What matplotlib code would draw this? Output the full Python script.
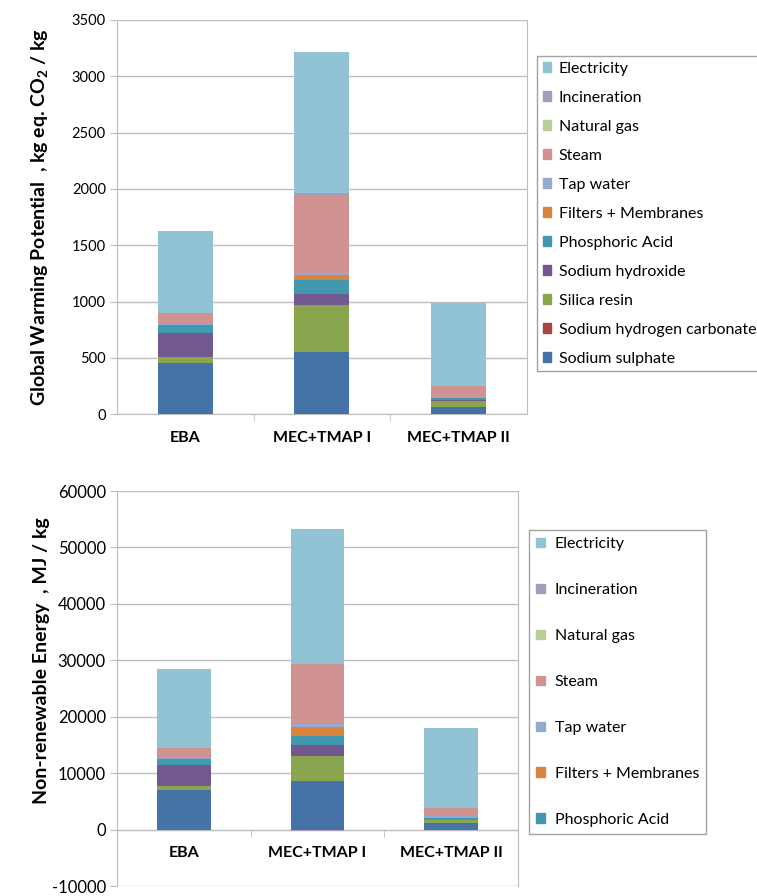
import matplotlib
matplotlib.use("Agg")
import matplotlib.pyplot as plt
import numpy as np
from matplotlib.patches import Patch

plt.rcParams['font.family'] = ['Lato', 'DejaVu Sans']
plt.rcParams['mathtext.default'] = 'regular'
plt.rcParams['axes.unicode_minus'] = False

# Categories and components (stack order, bottom first)
categories = ["EBA", "MEC+TMAP I", "MEC+TMAP II"]
components = ["Sodium sulphate", "Sodium hydrogen carbonate", "Silica resin",
              "Sodium hydroxide", "Phosphoric Acid", "Filters + Membranes",
              "Tap water", "Steam", "Natural gas", "Incineration", "Electricity"]
colors = ["#4572A7", "#AA4643", "#89A54E", "#71588F", "#4198AF", "#DB843D",
          "#93A9CF", "#D19392", "#B9CD96", "#A99BBD", "#91C3D5"]

# Global warming potential, kg eq. CO2 / kg
gwp_sulphate = [453, 551, 62]
gwp_carbonate = [0, 0, 0]
gwp_silica = [59, 420, 60]
gwp_hydroxide = [207, 97, 5]
gwp_phosphoric = [75, 125, 14]
gwp_filters = [0, 44, 0]
gwp_tapwater = [8, 20, 15]
gwp_steam = [95, 681, 94]
gwp_natgas = [0, 0, 0]
gwp_incineration = [0, 24, 0]
gwp_electricity = [733, 1258, 736]

# Non-renewable energy, MJ / kg
nre_sulphate = [7080, 8660, 1160]
nre_carbonate = [0, 0, 0]
nre_silica = [710, 4340, 500]
nre_hydroxide = [3740, 1990, 100]
nre_phosphoric = [950, 1580, 250]
nre_filters = [0, 1580, 0]
nre_tapwater = [280, 480, 380]
nre_steam = [1650, 10650, 1480]
nre_natgas = [0, 0, 0]
nre_incineration = [0, -200, 0]
nre_electricity = [13990, 23920, 14130]

gwp = [gwp_sulphate, gwp_carbonate, gwp_silica, gwp_hydroxide, gwp_phosphoric,
       gwp_filters, gwp_tapwater, gwp_steam, gwp_natgas, gwp_incineration, gwp_electricity]
nre = [nre_sulphate, nre_carbonate, nre_silica, nre_hydroxide, nre_phosphoric,
       nre_filters, nre_tapwater, nre_steam, nre_natgas, nre_incineration, nre_electricity]

grid_col = "#BDBDBD"
x = np.arange(len(categories))


def stacked(ax, series):
    pos = np.zeros(len(categories))
    neg = np.zeros(len(categories))
    for vals, col in zip(series, colors):
        vals = np.array(vals, dtype=float)
        bottom = np.where(vals >= 0, pos, neg)
        ax.bar(x, vals, 0.4, bottom=bottom, color=col, zorder=3)
        pos = pos + np.where(vals >= 0, vals, 0)
        neg = neg + np.where(vals < 0, vals, 0)


def style(ax, ysize):
    ax.set_xlim(-0.5, 2.5)
    ax.set_xticks(x)
    ax.set_xticklabels(categories, fontsize=11.5, fontweight='bold')
    ax.set_xticks([0.5, 1.5], minor=True)
    ax.tick_params(axis='x', which='major', length=0, pad=12)
    ax.tick_params(axis='x', which='minor', length=5, color=grid_col, direction='out')
    ax.tick_params(axis='y', length=5, color=grid_col, labelsize=ysize, pad=3)
    ax.yaxis.grid(True, color=grid_col, linewidth=1, zorder=0)
    ax.set_axisbelow(True)
    for s in ['left', 'right', 'bottom']:
        ax.spines[s].set_color(grid_col)
    ax.spines['top'].set_visible(False)


fig = plt.figure(figsize=(7.57, 8.96), dpi=100)

# Top chart
ax1 = fig.add_axes([117/757, 1-414.3/896, 409.5/757, 394.3/896])
stacked(ax1, gwp)
ax1.set_ylim(0, 3500)
ax1.set_yticks(np.arange(0, 3501, 500))
style(ax1, 10.5)
ax1.set_ylabel("Global Warming Potential  , kg eq. CO$_2$ / kg", fontsize=14,
               fontweight='bold')
ax1.yaxis.set_label_coords(-0.164, 0.5)

handles = [Patch(color=c, label=l) for c, l in zip(colors, components)][::-1]
fig.legend(handles=handles, loc='upper left', bbox_to_anchor=(537/757, 1-56/896),
           fontsize=11.5, frameon=True, fancybox=False, edgecolor='#8C8C8C',
           handlelength=0.55, handleheight=0.55, handletextpad=0.45,
           labelspacing=0.94, borderpad=0.35, borderaxespad=0)

# Bottom chart
ax2 = fig.add_axes([117/757, 1-886/896, 401/757, 395/896])
stacked(ax2, nre)
ax2.set_ylim(-10000, 60000)
ax2.set_yticks(np.arange(-10000, 60001, 10000))
ax2.spines['bottom'].set_position(('data', 0))
style(ax2, 12)
ax2.set_ylabel("Non-renewable Energy  , MJ / kg", fontsize=14,
               fontweight='bold')
ax2.yaxis.set_label_coords(-0.167, 0.57)

handles2 = handles[:7]
fig.legend(handles=handles2, loc='upper left', bbox_to_anchor=(529/757, 1-530/896),
           fontsize=11.5, frameon=True, fancybox=False, edgecolor='#8C8C8C',
           handlelength=0.55, handleheight=0.55, handletextpad=0.6,
           labelspacing=2.0, borderpad=0.45, borderaxespad=0)

fig.savefig("out.png", dpi=100)
